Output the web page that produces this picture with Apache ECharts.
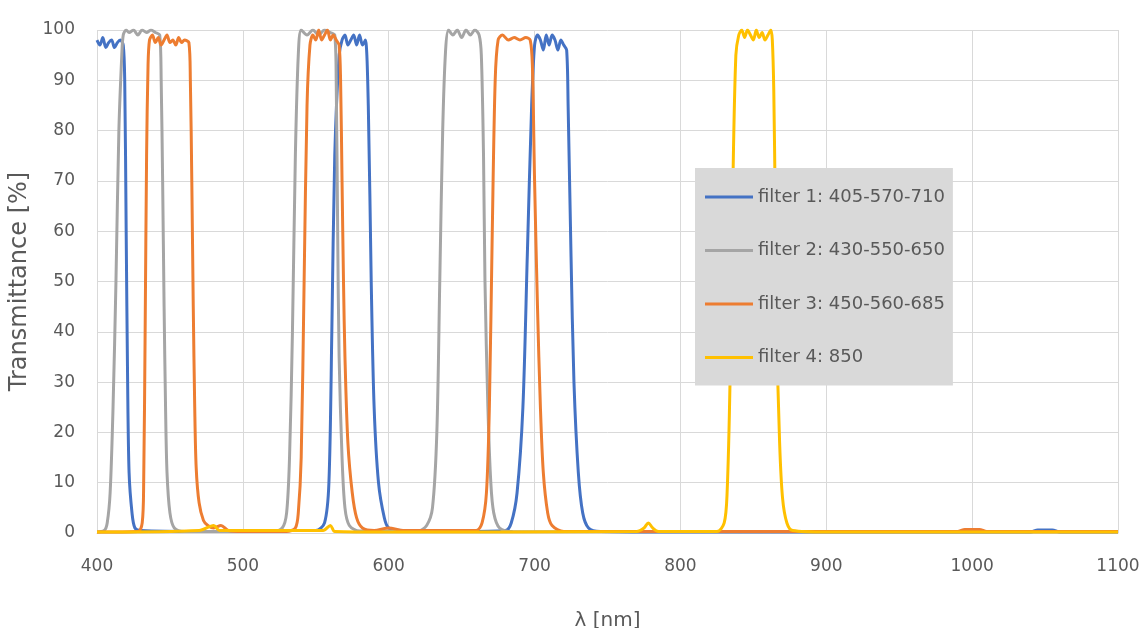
<!DOCTYPE html>
<html>
<head>
<meta charset="utf-8">
<script src="https://cdn.jsdelivr.net/npm/echarts@6/dist/echarts.min.js"></script>
<style>
html,body{margin:0;padding:0;background:#fff;}
#chart{width:1146px;height:628px;}
</style>
</head>
<body>
<div id="chart"></div>
<script>
const seriesNames = ['filter 1: 405-570-710','filter 2: 430-550-650','filter 3: 450-560-685','filter 4: 850'];
const xTicks = [400,500,600,700,800,900,1000,1100];
const yTicks = [0,10,20,30,40,50,60,70,80,90,100];

const filter1 = [[400,98],[402,97],[404,98.5],[406,96.5],[408,97.5],[410,98],[412,96.5],[414,97.5],[416,98],[418,97],[419,90],[420,60],[421,30],[422,12],[424,4],[426,1],[430,0.5],[470,0.3],[520,0.5],[550,0.5],[556,2],[559,10],[561,40],[563,75],[566,95],[568,98],[570,99],[572,97],[574,98],[576,99],[578,97],[580,99],[582,97],[584,98],[586,85],[588,50],[590,25],[593,10],[597,3],[600,1],[610,0.5],[650,0.3],[680,0.5],[684,2],[688,8],[692,25],[695,55],[698,85],[700,97],[702,99],[704,98],[706,96],[708,99],[710,97],[712,99],[714,98],[716,96],[718,98],[720,97],[722,96],[723,85],[725,55],[727,30],[730,12],[733,4],[737,1],[745,0.3],[800,0.2],[1040,0.2],[1045,0.6],[1055,0.6],[1060,0.2],[1100,0.2]];

const filter2 = [[400,0.2],[405,0.5],[407,2],[409,8],[411,25],[413,50],[415,80],[417,95],[418,99],[420,100],[422,99.5],[425,100],[428,99],[431,100],[434,99.5],[437,100],[440,99.5],[443,99],[444,90],[445,70],[446,45],[447,25],[448,12],[450,4],[453,1],[460,0.3],[520,0.3],[527,1],[530,4],[532,15],[534,40],[536,75],[538,95],[540,100],[544,99],[548,100],[552,99],[556,100],[560,99.5],[563,99],[564,90],[565,60],[566,35],[568,15],[570,5],[573,1.5],[580,0.4],[620,0.4],[626,1.5],[630,5],[633,20],[635,50],[637,80],[639,96],[641,100],[644,99],[647,100],[650,98.5],[653,100],[656,99],[659,100],[662,99],[663.5,95],[665,75],[666,50],[668,25],[670,10],[672,4],[676,1],[685,0.3],[1100,0.2]];

const filter3 = [[400,0.2],[428,0.3],[431,2],[432,10],[433,40],[434,75],[435,93],[436,98],[438,99],[440,97.5],[442,98.5],[444,97],[446,98],[448,99],[450,97.5],[452,98],[454,97],[456,98.5],[458,97.5],[460,98],[463,97.5],[464,90],[465,70],[466,45],[467,25],[468,13],[470,6],[473,2.5],[476,1.5],[480,1],[485,1.5],[490,0.5],[500,0.3],[530,0.3],[536,1],[538,4],[540,15],[542,50],[544,85],[546,97],[548,99],[550,98],[552,100],[554,98],[556,99],[558,100],[560,98],[562,99],[564,98],[566,97],[567,90],[568,70],[569,50],[570,35],[572,18],[575,8],[578,3],[582,1],[590,0.5],[600,1],[610,0.5],[660,0.5],[664,2],[667,8],[669,25],[671,60],[673,90],[675,98],[678,99],[682,98],[686,98.5],[690,98],[694,98.5],[697,98],[698.5,93],[700,70],[702,45],[704,25],[706,12],[709,4],[712,1.5],[720,0.3],[990,0.3],[995,0.7],[1005,0.7],[1010,0.3],[1100,0.3]];

const filter4 = [[400,0.2],[470,0.5],[480,1.5],[484,0.5],[555,0.5],[560,1.5],[563,0.3],[600,0.2],[770,0.3],[775,1],[778,2],[781,1],[785,0.3],[825,0.3],[830,2],[832,8],[834,30],[836,70],[838,95],[840,99],[842,100],[844,98.5],[846,100],[848,99],[850,98],[852,100],[854,98.5],[856,99.5],[858,98],[860,99],[862,100],[863,98],[864,88],[865,65],[866,40],[868,18],[870,7],[873,2],[877,0.5],[900,0.2],[1100,0.2]];

const colors = ['#4472C4','#A5A5A5','#ED7D31','#FFC000'];
const allData = [filter1, filter2, filter3, filter4];
const font = 'DejaVu Sans';

const chart = echarts.init(document.getElementById('chart'));
chart.setOption({
  animation: false,
  backgroundColor: '#ffffff',
  grid: {left: 97, right: 28, top: 30, bottom: 95, containLabel: false, outerBoundsMode: 'none'},
  legend: {
    orient: 'vertical',
    left: 695, top: 168,
    padding: [19, 8, 18, 10],
    itemGap: 33.5,
    backgroundColor: '#d9d9d9',
    icon: 'rect',
    itemWidth: 48, itemHeight: 3,
    textStyle: {color: '#595959', fontSize: 18, lineHeight: 20, fontFamily: font},
    data: seriesNames
  },
  xAxis: {
    type: 'value', min: xTicks[0], max: xTicks[xTicks.length-1], interval: 100,
    name: 'λ [nm]', nameLocation: 'middle', nameGap: 78,
    nameTextStyle: {color: '#595959', fontSize: 20, fontFamily: font},
    axisLine: {show: true, lineStyle: {color: '#d9d9d9'}},
    axisTick: {show: false},
    axisLabel: {color: '#595959', fontSize: 17, fontFamily: font, margin: 25,
      formatter: v => String(v)},
    splitLine: {show: true, lineStyle: {color: '#d9d9d9'}}
  },
  yAxis: {
    type: 'value', min: yTicks[0], max: yTicks[yTicks.length-1], interval: 10,
    name: 'Transmittance [%]', nameLocation: 'middle', nameGap: 64, nameRotate: 90,
    nameTextStyle: {color: '#595959', fontSize: 24, fontFamily: font},
    axisLine: {show: false},
    axisTick: {show: false},
    axisLabel: {color: '#595959', fontSize: 17, fontFamily: font, margin: 22},
    splitLine: {show: true, lineStyle: {color: '#d9d9d9'}}
  },
  series: seriesNames.map((n, i) => ({
    name: n, type: 'line', data: allData[i], showSymbol: false, symbol: 'none',
    smooth: 0.3,
    lineStyle: {color: colors[i], width: 3},
    itemStyle: {color: colors[i]}
  }))
});
</script>
</body>
</html>
